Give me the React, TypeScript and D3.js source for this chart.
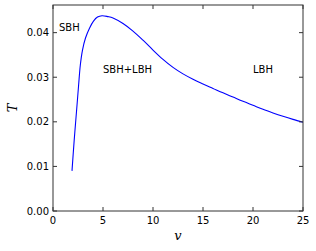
import React from "react";
import * as d3 from "d3";

const vValues = [1.9, 2.12, 2.36, 2.56, 2.73, 2.95, 3.25, 3.65, 4.05, 4.45, 4.9, 5.5, 6, 7, 8, 9, 10, 11, 12, 13, 14, 15, 16, 17, 18, 19, 20, 21, 22, 23, 24, 25];
const tValues = [0.0090, 0.0159, 0.0226, 0.0282, 0.0327, 0.0361, 0.0388, 0.0410, 0.0426, 0.0435, 0.0438, 0.0436, 0.0433, 0.04205, 0.04035, 0.0383, 0.0361, 0.0340, 0.0322, 0.03075, 0.02955, 0.0285, 0.0275, 0.0265, 0.02555, 0.0246, 0.0237, 0.0228, 0.0220, 0.02125, 0.02055, 0.0199];
const xTicks = [0, 5, 10, 15, 20, 25];
const yTicks = [0, 0.01, 0.02, 0.03, 0.04];
const regionLabels = ["SBH", "SBH+LBH", "LBH"];
const regionV = [0.6, 5.0, 20.0];
const regionT = [0.0403, 0.0309, 0.0309];

const W = 316, H = 251;
const L = 53, R = 303, T0 = 5, B = 211;

export default function App() {
  const x = d3.scaleLinear().domain([0, 25]).range([L, R]);
  const y = d3.scaleLinear().domain([0, 0.0462]).range([B, T0]);
  const pts = vValues.map((v, i) => [v, tValues[i]] as [number, number]);
  const line = d3.line<[number, number]>().x(d => x(d[0])).y(d => y(d[1])).curve(d3.curveCatmullRom.alpha(0.5));
  const font = "DejaVu Sans, sans-serif";
  return (
    <svg width={W} height={H} style={{ position: "absolute", left: 0, top: 0 }}>
      <rect x={0} y={0} width={W} height={H} fill="white" />
      <path d={line(pts) || ""} fill="none" stroke="#0000ff" strokeWidth={1.1} />
      {regionLabels.map((s, i) => (
        <text key={s} x={x(regionV[i])} y={y(regionT[i])} fontFamily={font} fontSize={10} fill="black">{s}</text>
      ))}
      <rect x={L} y={T0} width={R - L} height={B - T0} fill="none" stroke="#333" strokeWidth={1} />
      {xTicks.map(t => (
        <g key={"x" + t}>
          <line x1={x(t)} x2={x(t)} y1={B} y2={B - 4} stroke="#333" />
          <line x1={x(t)} x2={x(t)} y1={T0} y2={T0 + 4} stroke="#333" />
          <text x={x(t)} y={B + 13} textAnchor="middle" fontFamily={font} fontSize={10} fill="black">{t}</text>
        </g>
      ))}
      {yTicks.map(t => (
        <g key={"y" + t}>
          <line x1={L} x2={L + 4} y1={y(t)} y2={y(t)} stroke="#333" />
          <line x1={R} x2={R - 4} y1={y(t)} y2={y(t)} stroke="#333" />
          <text x={L - 4} y={y(t) + 3.5} textAnchor="end" fontFamily={font} fontSize={10} fill="black">{t.toFixed(2)}</text>
        </g>
      ))}
      <text x={178} y={240} textAnchor="middle" fontFamily="DejaVu Serif, serif" fontStyle="italic" fontSize={13} fill="black">v</text>
      <text transform={`translate(17,${(T0 + B) / 2}) rotate(-90)`} textAnchor="middle" fontFamily="DejaVu Serif, serif" fontStyle="italic" fontSize={13} fill="black">T</text>
    </svg>
  );
}
